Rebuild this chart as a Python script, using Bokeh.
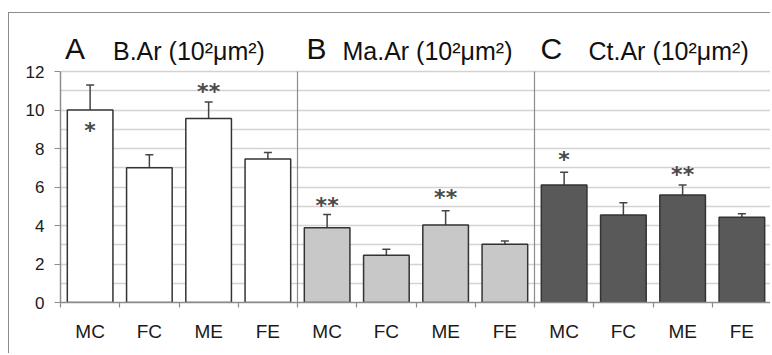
from bokeh.plotting import figure
from bokeh.models import (ColumnDataSource, Range1d, FixedTicker, Whisker, TeeHead)
from bokeh.core.properties import value
from bokeh.embed import file_html
from bokeh.resources import INLINE

# ---------------- data ----------------
groups = ["MC", "FC", "ME", "FE"]
panel_letters = ["A", "B", "C"]
panel_titles = ["B.Ar (10²μm²)", "Ma.Ar (10²μm²)", "Ct.Ar (10²μm²)"]

bone_area = [10.0, 7.0, 9.56, 7.46]
bone_area_sd = [1.30, 0.67, 0.85, 0.33]
marrow_area = [3.88, 2.46, 4.03, 3.03]
marrow_area_sd = [0.69, 0.31, 0.73, 0.16]
cortical_area = [6.10, 4.55, 5.59, 4.43]
cortical_area_sd = [0.67, 0.63, 0.52, 0.18]

sig_marks = [["*", "", "**", ""], ["**", "", "**", ""], ["*", "", "**", ""]]
sig_y = [[9.1, None, 11.1, None], [5.2, None, 5.6, None], [7.6, None, 6.8, None]]

y_ticks = [0, 2, 4, 6, 8, 10, 12]
y_grid = list(range(0, 13))

panel_values = [bone_area, marrow_area, cortical_area]
panel_sd = [bone_area_sd, marrow_area_sd, cortical_area_sd]
panel_fill = ["#ffffff", "#c8c8c8", "#595959"]

FONT = "Liberation Sans"
GRAY = "#8c8c8c"
n_g = len(groups)
n_panels = len(panel_values)
n_cat = n_g * n_panels
y_max = max(y_ticks)

W, H = 762, 341
MB_LEFT, MB_BOTTOM = 51, 52
frame_h = H - MB_BOTTOM
y_end = y_max * frame_h / 231.0   # leave room inside the frame for the panel titles

p = figure(width=W, height=H, x_range=Range1d(0, n_cat), y_range=Range1d(0, y_end),
           output_backend="svg", toolbar_location=None,
           min_border_left=MB_LEFT, min_border_right=0, min_border_top=0,
           min_border_bottom=MB_BOTTOM)
p.margin = (12, 0, 0, 8)
p.styles = {"border-left": "1.5px solid " + GRAY, "border-top": "1.5px solid " + GRAY}
p.outline_line_color = None
p.background_fill_color = "white"
p.border_fill_color = "white"

# grids
p.ygrid.ticker = FixedTicker(ticks=y_grid)
p.ygrid.grid_line_color = "#d3d3d3"
p.ygrid.grid_line_width = 1.5
p.xgrid.grid_line_color = None

# panel separators
seps = [n_g * i for i in range(1, n_panels + 1)]
p.segment(x0=seps, y0=[0] * len(seps), x1=seps, y1=[y_max] * len(seps),
          line_color=GRAY, line_width=1.2)

# y axis
p.yaxis.ticker = FixedTicker(ticks=y_ticks)
p.yaxis.bounds = (0, y_max)
p.yaxis.axis_line_color = GRAY
p.yaxis.axis_line_width = 1.5
p.yaxis.major_tick_line_color = GRAY
p.yaxis.major_tick_out = 6
p.yaxis.major_tick_in = 0
p.yaxis.minor_tick_line_color = None
p.yaxis.major_label_text_font = FONT
p.yaxis.major_label_text_font_size = "17px"
p.yaxis.major_label_text_color = "#1a1a1a"
p.yaxis.major_label_standoff = 10

# x axis: labels at centres, minor ticks at boundaries
centers = [i + 0.5 for i in range(n_cat)]
p.xaxis.ticker = FixedTicker(ticks=centers, minor_ticks=list(range(0, n_cat + 1)))
p.xaxis.major_label_overrides = {c: groups[i % n_g] for i, c in enumerate(centers)}
p.xaxis.axis_line_color = GRAY
p.xaxis.axis_line_width = 1.5
p.xaxis.major_tick_line_color = None
p.xaxis.minor_tick_line_color = GRAY
p.xaxis.minor_tick_line_width = 1.2
p.xaxis.minor_tick_out = 5
p.xaxis.minor_tick_in = 0
p.xaxis.major_label_text_font = FONT
p.xaxis.major_label_text_font_size = "19px"
p.xaxis.major_label_text_color = "#1a1a1a"
p.xaxis.major_label_standoff = 12

# bars + error bars + significance marks
for k, (vals, sds) in enumerate(zip(panel_values, panel_sd)):
    xs = [k * n_g + i + 0.5 for i in range(n_g)]
    src = ColumnDataSource(dict(x=xs, top=vals, err=[v + s for v, s in zip(vals, sds)]))
    p.vbar(x="x", top="top", bottom=0, width=0.77, source=src,
           fill_color=panel_fill[k], line_color="#333333", line_width=1.5)
    w = Whisker(source=src, base="x", lower="top", upper="err", dimension="height",
                line_color="#444444", line_width=1.5,
                upper_head=TeeHead(size=8, line_color="#444444", line_width=1.5),
                lower_head=None)
    p.add_layout(w)
    sx = [x for x, m in zip(xs, sig_marks[k]) if m]
    sy = [y for y, m in zip(sig_y[k], sig_marks[k]) if m]
    st = [m for m in sig_marks[k] if m]
    p.text(x=sx, y=sy, text=st, text_align="center", text_baseline="middle",
           text_font=value("DejaVu Sans"), text_font_size="22px", text_font_style="bold",
           text_color="#4a4a4a", y_offset=3)

# panel titles (inside the frame, above the y=12 line)
starts = [k * n_g for k in range(n_panels)]
p.text(x=starts, y=[y_max] * n_panels, text=panel_letters,
       x_offset=[4.5, 9, 6], y_offset=-23, text_baseline="alphabetic",
       text_font=value(FONT), text_font_size="30px", text_color="#111111")
p.text(x=starts, y=[y_max] * n_panels, text=panel_titles,
       x_offset=[52.5, 45, 54], y_offset=-21, text_baseline="alphabetic",
       text_font=value(FONT), text_font_size="25px", text_color="#111111")

open("out.html", "w").write(file_html(p, INLINE))
